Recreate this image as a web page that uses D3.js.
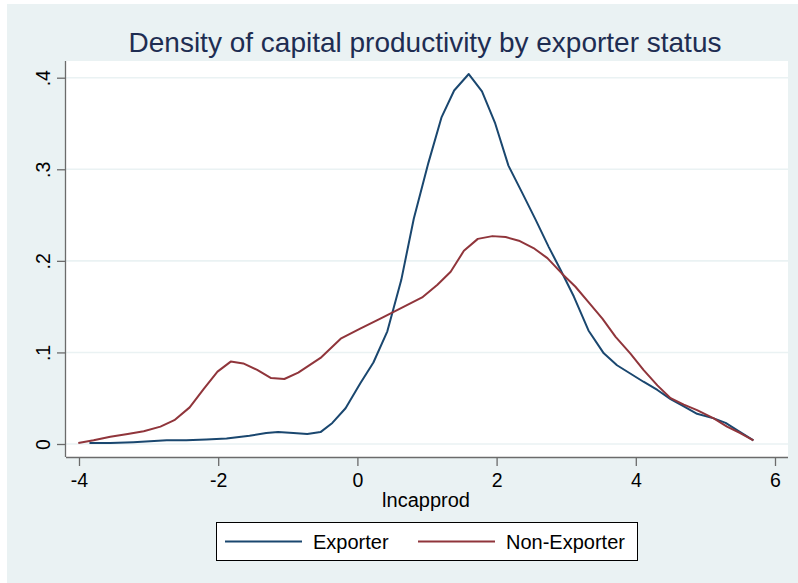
<!DOCTYPE html>
<html>
<head>
<meta charset="utf-8">
<script src="https://cdn.jsdelivr.net/npm/d3@7"></script>
<style>
  body { margin: 0; background: #fff; }
  text { font-family: "Liberation Sans", Arial, sans-serif; }
</style>
</head>
<body>
<div id="viz"></div>
<script>
// density estimates
const exporterX = [-3.85, -3.55, -3.22, -2.74, -2.46, -2.17, -1.88, -1.55, -1.31, -1.14, -0.92, -0.72, -0.53, -0.36, -0.17, 0.04, 0.23, 0.43, 0.63, 0.81, 1.02, 1.21, 1.39, 1.60, 1.79, 1.98, 2.17, 2.37, 2.56, 2.75, 2.92, 3.11, 3.32, 3.54, 3.73, 3.92, 4.11, 4.31, 4.50, 4.69, 4.88, 5.12, 5.29, 5.50, 5.69];
const exporterY = [0.001, 0.001, 0.002, 0.004, 0.004, 0.005, 0.006, 0.009, 0.012, 0.013, 0.012, 0.011, 0.013, 0.023, 0.039, 0.066, 0.089, 0.123, 0.179, 0.246, 0.307, 0.357, 0.386, 0.404, 0.385, 0.350, 0.304, 0.274, 0.245, 0.215, 0.190, 0.161, 0.124, 0.099, 0.086, 0.077, 0.068, 0.059, 0.049, 0.041, 0.033, 0.028, 0.023, 0.013, 0.004];

const nonExporterX = [-4.01, -3.79, -3.55, -3.30, -3.07, -2.83, -2.63, -2.41, -2.21, -2.01, -1.82, -1.64, -1.44, -1.24, -1.05, -0.85, -0.53, -0.24, 0.04, 0.33, 0.62, 0.93, 1.15, 1.34, 1.53, 1.73, 1.94, 2.13, 2.32, 2.53, 2.73, 2.94, 3.13, 3.32, 3.52, 3.71, 3.92, 4.11, 4.31, 4.50, 4.69, 4.88, 5.12, 5.31, 5.50, 5.69];
const nonExporterY = [0.001, 0.004, 0.008, 0.011, 0.014, 0.019, 0.026, 0.040, 0.060, 0.079, 0.090, 0.088, 0.081, 0.072, 0.071, 0.078, 0.094, 0.115, 0.126, 0.137, 0.148, 0.160, 0.174, 0.188, 0.211, 0.224, 0.227, 0.226, 0.222, 0.214, 0.203, 0.186, 0.172, 0.155, 0.137, 0.117, 0.099, 0.081, 0.064, 0.050, 0.043, 0.037, 0.028, 0.019, 0.012, 0.004];

const xTicks = [-4, -2, 0, 2, 4, 6];
const yTicks = [0, 0.1, 0.2, 0.3, 0.4];
const yTickLabels = ["0", ".1", ".2", ".3", ".4"];
const seriesNames = ["Exporter", "Non-Exporter"];
const colors = ["#1a476f", "#90353b"];

const width = 798;
const height = 583;

// plot region
const plot = {left: 66, top: 61, right: 788, bottom: 457};

const svg = d3.select("#viz")
        .append("svg")
        .attr("width", width)
        .attr("height", height);

// outer background
svg.append("rect")
    .attr("x", 7).attr("y", 4)
    .attr("width", width - 7).attr("height", height - 4)
    .attr("fill", "#eaf2f3");

svg.append("rect")
    .attr("x", plot.left).attr("y", plot.top)
    .attr("width", plot.right - plot.left).attr("height", plot.bottom - plot.top)
    .attr("fill", "#ffffff");

const x = d3.scaleLinear().domain([-4, 6]).range([79, 775]);
const y = d3.scaleLinear().domain([0, 0.4]).range([444, 77.7]);

// gridlines
svg.append("g")
    .selectAll("line")
    .data(yTicks)
    .enter()
    .append("line")
    .attr("x1", plot.left).attr("x2", plot.right)
    .attr("y1", d => y(d)).attr("y2", d => y(d))
    .attr("stroke", "#eaf2f3")
    .attr("stroke-width", 1.6);

// x axis
const xAxis = d3.axisBottom(x).tickValues(xTicks).tickSize(9).tickPadding(7).tickFormat(d3.format("d"));
const gx = svg.append("g")
    .attr("transform", "translate(0," + plot.bottom + ")")
    .call(xAxis);
gx.select(".domain").attr("d", "M" + plot.left + ",0.5H" + plot.right).attr("stroke", "#6b6b6b").attr("stroke-width", 1.3);
gx.selectAll(".tick line").attr("stroke", "#6b6b6b").attr("stroke-width", 1.3);
gx.selectAll(".tick text")
    .attr("font-size", 19.5)
    .attr("fill", "#000")
    .attr("font-family", "Liberation Sans, Arial, sans-serif")
    .text(d => d < 0 ? "-" + Math.abs(d) : d);

// y axis
const yAxis = d3.axisLeft(y).tickValues(yTicks).tickSize(9).tickFormat((d, i) => yTickLabels[i]);
const gy = svg.append("g")
    .attr("transform", "translate(" + plot.left + ",0)")
    .call(yAxis);
gy.select(".domain").attr("d", "M-0.5," + plot.top + "V" + plot.bottom).attr("stroke", "#6b6b6b").attr("stroke-width", 1.3);
gy.selectAll(".tick line").attr("stroke", "#6b6b6b").attr("stroke-width", 1.3);
gy.selectAll(".tick text")
    .attr("font-size", 19.5)
    .attr("fill", "#000")
    .attr("font-family", "Liberation Sans, Arial, sans-serif")
    .attr("x", null).attr("dy", null)
    .attr("text-anchor", "middle")
    .attr("transform", "translate(-16,0) rotate(-90)");

// lines
const line = d3.line().x(d => x(d[0])).y(d => y(d[1]));
const series = [
    d3.zip(exporterX, exporterY),
    d3.zip(nonExporterX, nonExporterY)
];
svg.append("g")
    .selectAll("path")
    .data(series)
    .enter()
    .append("path")
    .attr("d", line)
    .attr("fill", "none")
    .attr("stroke", (d, i) => colors[i])
    .attr("stroke-width", 2)
    .attr("stroke-linejoin", "round");

// title
svg.append("text")
    .attr("x", 425).attr("y", 52)
    .attr("text-anchor", "middle")
    .attr("font-size", 28)
    .attr("fill", "#1e2d52")
    .text("Density of capital productivity by exporter status");

// x label
svg.append("text")
    .attr("x", 426).attr("y", 507)
    .attr("text-anchor", "middle")
    .attr("font-size", 20)
    .attr("fill", "#000")
    .text("lncapprod");

// legend
const legend = svg.append("g");
legend.append("rect")
    .attr("x", 216.5).attr("y", 522.5)
    .attr("width", 421).attr("height", 38)
    .attr("fill", "#ffffff")
    .attr("stroke", "#000")
    .attr("stroke-width", 1);
const legendX = [225, 418];
seriesNames.forEach(function (name, i) {
    legend.append("line")
        .attr("x1", legendX[i]).attr("x2", legendX[i] + 77)
        .attr("y1", 541.5).attr("y2", 541.5)
        .attr("stroke", colors[i])
        .attr("stroke-width", 2);
    legend.append("text")
        .attr("x", legendX[i] + 88).attr("y", 549)
        .attr("font-size", 20)
        .attr("fill", "#000")
        .text(name);
});
</script>
</body>
</html>
